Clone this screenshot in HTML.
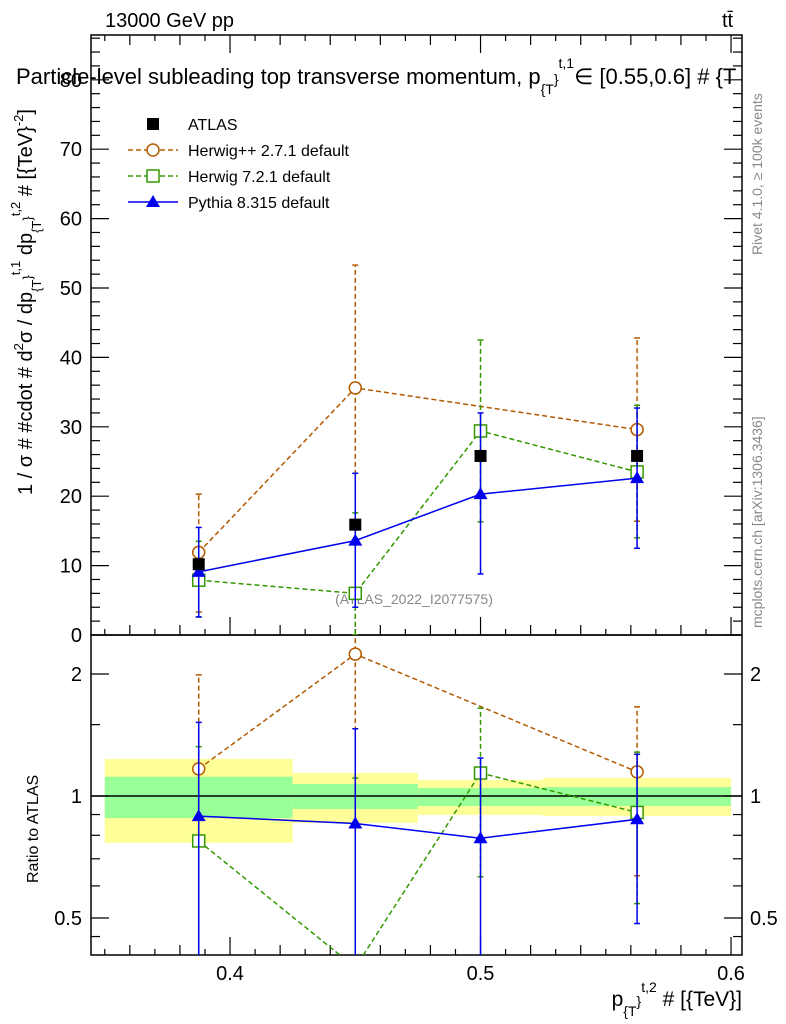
<!DOCTYPE html>
<html><head><meta charset="utf-8"><style>
html,body{margin:0;background:#fff;width:786px;height:1024px;overflow:hidden}
svg{display:block;font-family:"Liberation Sans",sans-serif}
</style></head><body>
<svg id="c" width="786" height="1024" viewBox="0 0 786 1024">
<text x="105" y="27" font-size="20">13000 GeV pp</text>
<text x="722" y="27" font-size="20">tt̄</text>
<text x="414" y="604" font-size="14" fill="#888" text-anchor="middle">(ATLAS_2022_I2077575)</text>
<text transform="translate(32,495) rotate(-90)" font-size="20">1 / σ # #cdot # d<tspan font-size="13" dy="-9">2</tspan><tspan dy="9">σ / dp</tspan><tspan font-size="13" dy="9">{T</tspan><tspan font-size="13" dy="-9">}</tspan><tspan font-size="13" dy="-12">t,1</tspan><tspan dy="12"> dp</tspan><tspan font-size="13" dy="9">{T</tspan><tspan font-size="13" dy="-9">}</tspan><tspan font-size="13" dy="-12">t,2</tspan><tspan dy="12"> # [{TeV}</tspan><tspan font-size="13" dy="-9">-2</tspan><tspan dy="9">]</tspan></text>
<text transform="translate(38,883) rotate(-90)" font-size="16">Ratio to ATLAS</text>
<text transform="translate(762,255) rotate(-90)" font-size="14" fill="#888">Rivet 4.1.0, ≥ 100k events</text>
<text transform="translate(762,628) rotate(-90)" font-size="14" fill="#888">mcplots.cern.ch [arXiv:1306.3436]</text>
<text x="742" y="1006" font-size="21" text-anchor="end">p<tspan font-size="14" dy="10">{T</tspan><tspan font-size="14" dy="-10">}</tspan><tspan font-size="14" dy="-14">t,2</tspan><tspan dy="14"> # [{TeV}]</tspan></text>
</svg>
<script>
const xCenters=[0.3875,0.45,0.5,0.5625];
const binEdges=[0.35,0.425,0.475,0.525,0.6];
const atlas=[10.2,15.9,25.8,25.8];
const hpp=[11.9,35.6,null,29.6];
const hppLo=[3.3,-3,null,16.4];
const hppHi=[20.3,53.3,null,42.8];
const h7=[7.9,6.0,29.4,23.5];
const h7Lo=[2.6,-3,16.3,14.0];
const h7Hi=[13.5,17.6,42.5,33.1];
const py=[9.1,13.6,20.3,22.6];
const pyLo=[2.6,4.0,8.8,12.5];
const pyHi=[15.5,23.3,32.0,32.7];
const bandYelLo=[0.766,0.858,0.898,0.893];
const bandYelHi=[1.234,1.14,1.095,1.108];
const bandGrnLo=[0.882,0.929,0.945,0.945];
const bandGrnHi=[1.116,1.07,1.046,1.052];
const yTicks=[0,10,20,30,40,50,60,70,80];
const xTicks=[0.4,0.5,0.6];
const rTicks=[0.5,1,2];

const NS="http://www.w3.org/2000/svg";
const svg=document.getElementById('c');
const L=91,R=742,T=35,M=635,B=955;
const X=v=>L+(v-0.3445)*2505;
const Y=v=>635-v*6.94;
const YR=r=>796-122*Math.log2(r);
function el(tag,attrs,parent){const e=document.createElementNS(NS,tag);for(const k in attrs)e.setAttribute(k,attrs[k]);(parent||svg).appendChild(e);return e;}
function txt(s,attrs,parent){const e=el('text',attrs,parent);e.textContent=s;return e;}

const defs=el('defs',{});
const cp1=el('clipPath',{id:'cm'},defs);el('rect',{x:L,y:T,width:R-L,height:M-T},cp1);
const cp2=el('clipPath',{id:'cr'},defs);el('rect',{x:L,y:M,width:R-L,height:B-M},cp2);

const gBand=el('g',{'clip-path':'url(#cr)'});


for(let i=0;i<4;i++){
 const x0=X(binEdges[i]),x1=X(binEdges[i+1]);
 const y=el('rect',{x:x0,y:YR(bandYelHi[i]),width:x1-x0,height:YR(bandYelLo[i])-YR(bandYelHi[i]),fill:'#ffff99'},gBand);
 
 
 const g=el('rect',{x:x0,y:YR(bandGrnHi[i]),width:x1-x0,height:YR(bandGrnLo[i])-YR(bandGrnHi[i]),fill:'#99ff99'},gBand);
 
 
}
el('line',{x1:L,x2:R,y1:YR(1),y2:YR(1),stroke:'#000','stroke-width':1.5},gBand);

for(const [y0,y1] of [[T,M],[M,B]]){
 const f=el('rect',{x:L,y:y0,width:R-L,height:y1-y0,fill:'none',stroke:'#000','stroke-width':1.5});
 
 
}
for(let k=35;k<=60;k++){
 const v=k/100,x=X(v);
 const len=(k%10==0)?18:(k%2==0?10:6);
 for(const [yb,dir] of [[M,-1],[T,1],[B,-1]]){
  el('line',{x1:x,x2:x,y1:yb,y2:yb+dir*len,stroke:'#000','stroke-width':1.2});
 }
}
xTicks.forEach(v=>{const t=txt(String(v),{x:X(v),y:980,'font-size':20,'text-anchor':'middle'});
 
 });
for(let v=0;v<=86;v+=2){
 const y=Y(v);if(y<T)continue;
 const len=v%10==0?18:9;
 el('line',{x1:L,x2:L+len,y1:y,y2:y,stroke:'#000','stroke-width':1.2});
 el('line',{x1:R,x2:R-len,y1:y,y2:y,stroke:'#000','stroke-width':1.2});
}
yTicks.forEach(v=>{const t=txt(String(v),{x:82,y:Y(v)+7,'font-size':20,'text-anchor':'end'});
 
 });
[0.45,0.5,0.6,0.7,0.8,0.9,1,1.5,2].forEach(v=>{
 const y=YR(v);const len=(v==0.5||v==1||v==2)?18:9;
 el('line',{x1:L,x2:L+len,y1:y,y2:y,stroke:'#000','stroke-width':1.2});
 el('line',{x1:R,x2:R-len,y1:y,y2:y,stroke:'#000','stroke-width':1.2});
});
rTicks.forEach(v=>{
 const a=txt(String(v),{x:82,y:YR(v)+7,'font-size':20,'text-anchor':'end'});
 
 
 const b=txt(String(v),{x:750,y:YR(v)+7,'font-size':20});
 
 
});

function series(name,vals,lo,hi,color,dash,marker,ratio){
 const g=el('g',{'clip-path':ratio?'url(#cr)':'url(#cm)'});
 
 
 const yf=ratio?((v,i)=>YR(Math.max(v/atlas[i],0.05))):((v,i)=>Y(v));
 const pts=[];
 vals.forEach((v,i)=>{if(v!=null)pts.push([X(xCenters[i]),yf(v,i),i]);});
 if(lo){pts.forEach(([x,y,i])=>{
  const y1=yf(Math.max(lo[i],0.01),i),y2=yf(hi[i],i);
  el('line',{x1:x,x2:x,y1:y1,y2:y2,stroke:color,'stroke-width':1.5,'stroke-dasharray':dash||'none'},g);
  el('line',{x1:x-3,x2:x+3,y1:y2,y2:y2,stroke:color,'stroke-width':1.5},g);
  el('line',{x1:x-3,x2:x+3,y1:y1,y2:y1,stroke:color,'stroke-width':1.5},g);
 });}
 if(name!=='atlas') el('polyline',{points:pts.map(p=>p[0]+','+p[1]).join(' '),fill:'none',stroke:color,'stroke-width':1.5,'stroke-dasharray':dash||'none'},g);
 pts.forEach(([x,y,i])=>{
  let m;
  if(marker=='sq') m=el('rect',{x:x-6,y:y-6,width:12,height:12,fill:'#000'},g);
  else if(marker=='circ') m=el('circle',{cx:x,cy:y,r:6,fill:'#fff',stroke:color,'stroke-width':1.5},g);
  else if(marker=='osq') m=el('rect',{x:x-6,y:y-6,width:12,height:12,fill:'#fff',stroke:color,'stroke-width':1.5},g);
  else m=el('polygon',{points:`${x},${y-7} ${x-7},${y+5} ${x+7},${y+5}`,fill:color},g);
  
  
 });
}
series('herwigpp',hpp,hppLo,hppHi,'#b35900','5,3','circ',false);
series('herwig7',h7,h7Lo,h7Hi,'#339900','5,3','osq',false);
series('pythia',py,pyLo,pyHi,'#0000ee',null,'tri',false);
series('atlas',atlas,null,null,'#000',null,'sq',false);
series('herwigpp',hpp,hppLo,hppHi,'#b35900','5,3','circ',true);
series('herwig7',h7,h7Lo,h7Hi,'#339900','5,3','osq',true);
series('pythia',py,pyLo,pyHi,'#0000ee',null,'tri',true);

const leg=el('g',{});


const legItems=[['ATLAS','#000',null,'sq'],['Herwig++ 2.7.1 default','#b35900','5,3','circ'],['Herwig 7.2.1 default','#339900','5,3','osq'],['Pythia 8.315 default','#0000ee',null,'tri']];
legItems.forEach(([lab,c,d,m],i)=>{
 const y=124+i*26,x=153;
 if(m!='sq') el('line',{x1:128,x2:178,y1:y,y2:y,stroke:c,'stroke-width':1.5,'stroke-dasharray':d||'none'},leg);
 if(m=='sq') el('rect',{x:x-6,y:y-6,width:12,height:12,fill:'#000'},leg);
 else if(m=='circ') el('circle',{cx:x,cy:y,r:6,fill:'#fff',stroke:c,'stroke-width':1.5},leg);
 else if(m=='osq') el('rect',{x:x-6,y:y-6,width:12,height:12,fill:'#fff',stroke:c,'stroke-width':1.5},leg);
 else el('polygon',{points:`${x},${y-7} ${x-7},${y+5} ${x+7},${y+5}`,fill:c},leg);
 const t=txt(lab,{x:188,y:y+6,'font-size':16},leg);
 
 
});
const title=txt('',{x:16,y:84,'font-size':22});


title.innerHTML='Particle-level subleading top transverse momentum, p<tspan font-size="14" dy="10">{T</tspan><tspan font-size="14" dy="-10">}</tspan><tspan font-size="14" dy="-16">t,1</tspan><tspan dy="16">∈ [0.55,0.6] # {T</tspan>';
</script>
</body></html>
